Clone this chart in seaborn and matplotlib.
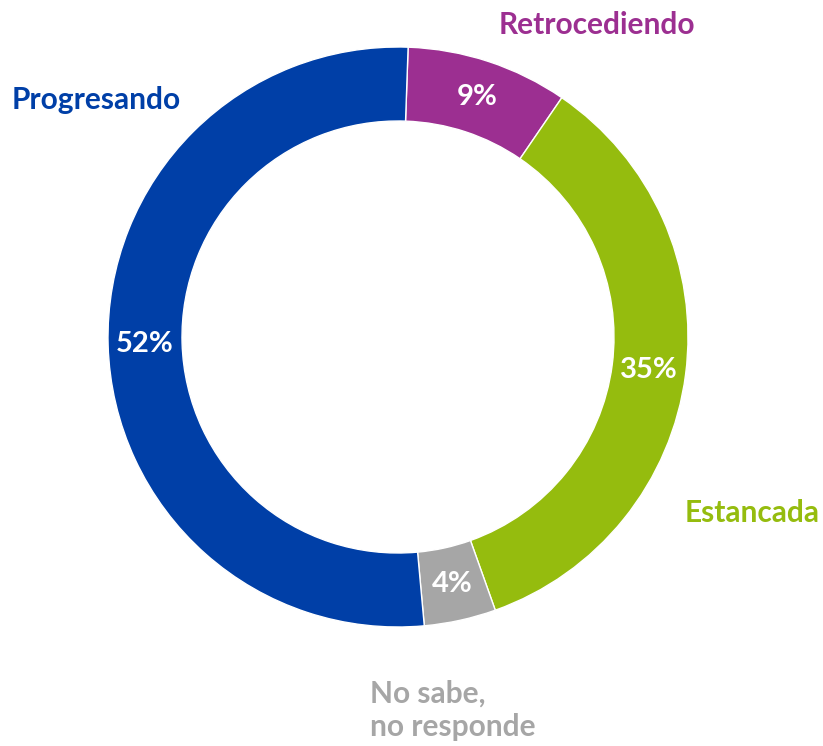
import matplotlib
matplotlib.use('Agg')
import matplotlib.pyplot as plt
import seaborn as sns

# data, clockwise from the top
categories = ['Retrocediendo', 'Estancada', 'No sabe,\nno responde', 'Progresando']
values = [9, 35, 4, 52]
colors = ['#9C2F91', '#95BC0E', '#A6A6A6', '#003FA7']

sns.set_style('white')
plt.rcParams['font.family'] = ['Lato', 'DejaVu Sans']

W, H = 823, 746
fig = plt.figure(figsize=(W / 100, H / 100), dpi=100)
ax = fig.add_axes([0, 0, 1, 1])

cx, cy, r_out = 398, 337, 290
ring = 74

# y axis runs downward (pixel coords), so the angles are mirrored
wedges, texts, autotexts = ax.pie(
    values, colors=colors, startangle=-88, counterclock=True,
    center=(cx, cy), radius=r_out, frame=True,
    autopct=lambda p: f'{p:.0f}%', pctdistance=1 - ring / 2 / r_out,
    wedgeprops=dict(width=ring, edgecolor='white', linewidth=1),
    textprops=dict(color='white', fontsize=21, fontweight='bold'),
)
ax.set_xlim(0, W)
ax.set_ylim(H, 0)
ax.set_aspect('equal')
ax.axis('off')

# outer category labels
label_pos = {
    'Retrocediendo': (597, 25, 'center'),
    'Estancada': (752, 513, 'center'),
    'No sabe,\nno responde': (370, 710, 'left'),
    'Progresando': (12, 100, 'left'),
}
for name, col in zip(categories, colors):
    x, y, ha = label_pos[name]
    ax.text(x, y, name, color=col, fontsize=21.5, fontweight='bold',
            ha=ha, va='center', linespacing=1.25)

fig.savefig('out.png', dpi=100)
